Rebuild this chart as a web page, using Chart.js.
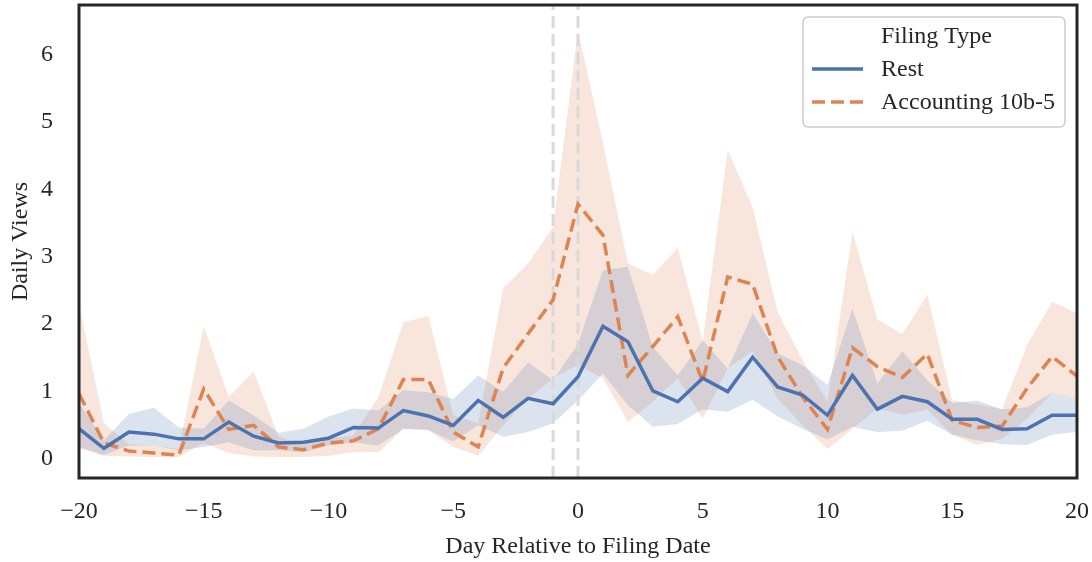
<!DOCTYPE html>
<html>
<head>
<meta charset="utf-8">
<script src="https://cdn.jsdelivr.net/npm/chart.js@4"></script>
<style>
  body { margin: 0; background: #fff; }
  #wrap { width: 1092px; height: 562px; }
</style>
</head>
<body>
<div id="wrap"><canvas id="views-chart" width="1092" height="562"></canvas></div>
<script>
// days around the filing date
var days = [-20, -19, -18, -17, -16, -15, -14, -13, -12, -11, -10, -9, -8, -7, -6, -5, -4, -3, -2, -1, 0,
            1, 2, 3, 4, 5, 6, 7, 8, 9, 10, 11, 12, 13, 14, 15, 16, 17, 18, 19, 20];

// Rest: mean + confidence band
var restMean  = [0.45, 0.16, 0.40, 0.37, 0.30, 0.30, 0.55, 0.34, 0.24, 0.25, 0.31, 0.47, 0.46, 0.72, 0.64, 0.50, 0.87, 0.62, 0.90, 0.82, 1.22,
                 1.97, 1.74, 1.01, 0.85, 1.20, 1.00, 1.51, 1.07, 0.95, 0.65, 1.24, 0.74, 0.93, 0.85, 0.59, 0.59, 0.44, 0.45, 0.65, 0.65];
var restUpper = [0.83, 0.28, 0.67, 0.76, 0.47, 0.45, 0.87, 0.65, 0.39, 0.45, 0.63, 0.75, 0.72, 1.02, 0.99, 0.89, 1.24, 1.00, 1.43, 1.17, 1.71,
                 2.80, 2.85, 1.66, 1.24, 1.76, 1.34, 2.16, 1.57, 1.39, 1.10, 2.23, 1.12, 1.60, 1.17, 0.83, 0.87, 0.74, 0.77, 0.98, 0.90];
var restLower = [0.18, 0.06, 0.20, 0.20, 0.13, 0.18, 0.25, 0.13, 0.13, 0.10, 0.20, 0.25, 0.20, 0.45, 0.43, 0.26, 0.50, 0.33, 0.40, 0.53, 0.87,
                 1.27, 0.80, 0.48, 0.52, 0.74, 0.70, 0.88, 0.63, 0.45, 0.29, 0.48, 0.40, 0.42, 0.57, 0.36, 0.28, 0.22, 0.21, 0.36, 0.40];

// Accounting 10b-5: mean + confidence band
var accMean  = [0.97, 0.24, 0.12, 0.09, 0.06, 1.04, 0.44, 0.50, 0.18, 0.14, 0.24, 0.27, 0.45, 1.18, 1.18, 0.40, 0.18, 1.35, 1.86, 2.36, 3.78,
                3.32, 1.24, 1.67, 2.11, 1.15, 2.70, 2.59, 1.52, 0.92, 0.44, 1.65, 1.37, 1.21, 1.56, 0.57, 0.47, 0.49, 1.05, 1.52, 1.23];
var accUpper = [2.30, 0.53, 0.22, 0.20, 0.15, 1.97, 0.92, 1.30, 0.33, 0.22, 0.30, 0.35, 0.92, 2.03, 2.12, 0.65, 0.53, 2.53, 2.90, 3.44, 6.35,
                4.68, 2.90, 2.73, 3.13, 1.75, 4.58, 3.73, 2.18, 1.47, 0.85, 3.37, 2.07, 1.85, 2.44, 0.87, 0.81, 0.74, 1.69, 2.33, 2.16];
var accLower = [0.16, 0.05, 0.04, 0.03, 0.03, 0.24, 0.09, 0.04, 0.03, 0.03, 0.05, 0.10, 0.10, 0.45, 0.43, 0.18, 0.05, 0.50, 0.90, 1.20, 1.40,
                1.20, 0.55, 0.85, 1.20, 0.60, 1.35, 1.60, 0.90, 0.50, 0.15, 0.45, 0.75, 0.66, 0.73, 0.36, 0.21, 0.30, 0.60, 0.98, 0.90];

var markerDays = [-1, 0];
var xTicks = [-20, -15, -10, -5, 0, 5, 10, 15, 20];
var yTicks = [0, 1, 2, 3, 4, 5, 6];
var yMin = -0.28, yMax = 6.73;

var BLUE = '#4c72b0', ORANGE = '#dd8452', INK = '#262626';
var FONT = 'Liberation Serif';
var FS = 24;
var DASH = [13, 6];

function pts(vals) {
    return days.map(function (d, i) { return { x: d, y: vals[i] }; });
}

function band(vals, fillTo, color) {
    return {
        data: pts(vals),
        borderWidth: 0,
        borderColor: 'rgba(0,0,0,0)',
        backgroundColor: color,
        fill: fillTo,
        pointRadius: 0,
        order: 2
    };
}

function vline(d) {
    return {
        data: [{ x: d, y: yMin }, { x: d, y: yMax }],
        borderColor: '#d9d9d9',
        borderWidth: 3,
        borderDash: [12, 6],
        pointRadius: 0,
        fill: false,
        order: 1
    };
}

var datasets = [
    band(restUpper, '+1', 'rgba(76,114,176,0.2)'),
    band(restLower, false, 'rgba(76,114,176,0.2)'),
    band(accUpper, '+1', 'rgba(221,132,82,0.2)'),
    band(accLower, false, 'rgba(221,132,82,0.2)')
];
markerDays.forEach(function (d) { datasets.push(vline(d)); });
datasets.push({
    label: 'Rest',
    data: pts(restMean),
    borderColor: BLUE,
    borderWidth: 3.5,
    pointRadius: 0,
    fill: false,
    order: 0
});
datasets.push({
    label: 'Accounting 10b-5',
    data: pts(accMean),
    borderColor: ORANGE,
    borderWidth: 3.5,
    borderDash: DASH,
    pointRadius: 0,
    fill: false,
    order: 0
});

// frame around the plot + seaborn-like legend box
var framePlugin = {
    id: 'frameAndLegend',
    afterDraw: function (chart) {
        var ctx = chart.ctx, a = chart.chartArea;
        ctx.save();
        ctx.strokeStyle = INK;
        ctx.lineWidth = 3;
        ctx.strokeRect(a.left, a.top, a.right - a.left, a.bottom - a.top);

        // legend
        var bx = 803, by = 17, bw = 262, bh = 110, r = 5;
        ctx.beginPath();
        ctx.moveTo(bx + r, by);
        ctx.arcTo(bx + bw, by, bx + bw, by + bh, r);
        ctx.arcTo(bx + bw, by + bh, bx, by + bh, r);
        ctx.arcTo(bx, by + bh, bx, by, r);
        ctx.arcTo(bx, by, bx + bw, by, r);
        ctx.closePath();
        ctx.fillStyle = 'rgba(255,255,255,0.85)';
        ctx.fill();
        ctx.strokeStyle = '#cccccc';
        ctx.lineWidth = 1.5;
        ctx.stroke();

        ctx.font = FS + 'px "' + FONT + '"';
        ctx.fillStyle = INK;
        ctx.textBaseline = 'middle';
        ctx.textAlign = 'left';
        ctx.fillText('Filing Type', 881, 37);
        ctx.fillText('Rest', 881, 70);
        ctx.fillText('Accounting 10b-5', 881, 103);

        ctx.lineWidth = 3.5;
        ctx.strokeStyle = BLUE;
        ctx.beginPath(); ctx.moveTo(812, 69); ctx.lineTo(863, 69); ctx.stroke();
        ctx.strokeStyle = ORANGE;
        ctx.setLineDash(DASH);
        ctx.beginPath(); ctx.moveTo(812, 102); ctx.lineTo(863, 102); ctx.stroke();
        ctx.restore();
    }
};

function minus(v) { return v < 0 ? '\u2212' + Math.abs(v) : String(v); }

new Chart(document.getElementById('views-chart'), {
    type: 'line',
    data: { datasets: datasets },
    options: {
        responsive: false,
        animation: false,
        layout: { padding: { left: 0, right: 15, top: 5, bottom: 0 } },
        plugins: {
            legend: { display: false },
            tooltip: { enabled: false },
            filler: { propagate: false }
        },
        scales: {
            x: {
                type: 'linear',
                min: -20,
                max: 20,
                grid: { display: false, drawTicks: false },
                border: { display: false },
                afterBuildTicks: function (s) { s.ticks = xTicks.map(function (v) { return { value: v }; }); },
                afterFit: function (s) { s.height = 84; s.paddingLeft = 0; s.paddingRight = 0; },
                ticks: {
                    padding: 19,
                    maxRotation: 0,
                    autoSkip: false,
                    color: INK,
                    font: { family: FONT, size: FS },
                    callback: function (v) { return minus(v); }
                },
                title: {
                    display: true,
                    text: 'Day Relative to Filing Date',
                    color: INK,
                    font: { family: FONT, size: FS },
                    padding: { top: 0, bottom: 1 }
                }
            },
            y: {
                type: 'linear',
                min: yMin,
                max: yMax,
                grid: { display: false, drawTicks: false },
                border: { display: false },
                afterBuildTicks: function (s) { s.ticks = yTicks.map(function (v) { return { value: v }; }); },
                afterFit: function (s) { s.width = 79; s.paddingTop = 0; s.paddingBottom = 0; },
                ticks: {
                    padding: 26,
                    autoSkip: false,
                    color: INK,
                    font: { family: FONT, size: FS },
                    callback: function (v) { return minus(v); }
                },
                title: {
                    display: true,
                    text: 'Daily Views',
                    color: INK,
                    font: { family: FONT, size: FS },
                    padding: { top: 6, bottom: 0 }
                }
            }
        }
    },
    plugins: [framePlugin]
});
</script>
</body>
</html>
